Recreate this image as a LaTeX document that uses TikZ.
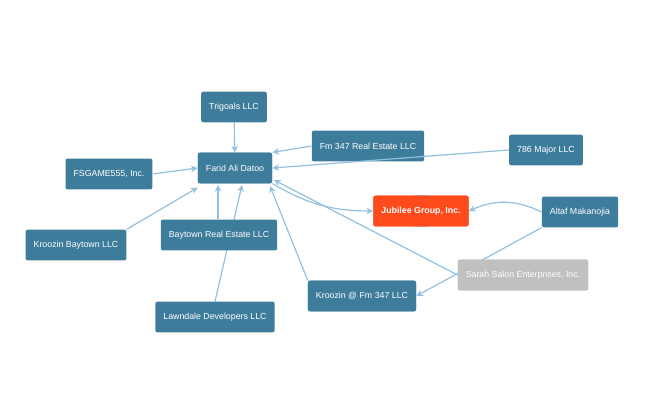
\documentclass[tikz,border=0pt]{standalone}
\usepackage{fontspec}
\setmainfont{Liberation Sans}
\definecolor{boxblue}{HTML}{3E7C9B}
\definecolor{boxred}{HTML}{FF4A1C}
\definecolor{boxgray}{HTML}{C0C0C0}
\definecolor{linkblue}{HTML}{92C0DE}
\tikzset{
  firm/.style={rectangle, rounded corners=1.5pt, fill=boxblue, text=white,
    font=\fontsize{6.6}{8}\selectfont, minimum height=23pt, inner xsep=6pt},
  link/.style={draw=linkblue, line width=0.9pt, -{Stealth[length=5pt,width=5pt]}}
}
\usetikzlibrary{arrows.meta}
\begin{document}
\begin{tikzpicture}[x=0.75pt, y=-0.75pt]
\useasboundingbox (0,0) rectangle (648,420);
% edges first so the boxes sit on top
\coordinate (lw) at (230,302);
\node[firm] (farid) at (235,168) {Farid Ali Datoo};
\node[firm] (trig) at (234,107) {Trigoals LLC};
\node[firm] (fm) at (368,146) {Fm 347 Real Estate LLC};
\node[firm] (major) at (546,150) {786 Major LLC};
\node[firm] (fsg) at (109,174) {FSGAME555, Inc.};
\node[firm, fill=boxred] (jub) at (421,211) {\textbf{Jubilee Group, Inc.}};
\node[firm] (altaf) at (580,212) {Altaf Makanojia};
\node[firm] (kbay) at (76,245) {Kroozin Baytown LLC};
\node[firm, fill=boxgray] (sarah) at (523,275) {Sarah Salon Enterprises, Inc.};
\node[firm] (kfm) at (362,296) {Kroozin @ Fm 347 LLC};
\node[firm] (lawn) at (215,317) {Lawndale Developers LLC};
\begin{scope}[on background layer/.style={}]
\draw[link] (trig) -- (farid);
\draw[link] (fm.west) -- (farid.north east);
\draw[link] (major.west) -- (farid.east);
\draw[link] (fsg.east) -- (farid.west);
\draw[link] (kbay.north east) -- ([yshift=-3pt]farid.south west);
\draw[link] (lawn.north) -- (242,185);
\draw[link] (kfm.north west) -- (270,186);
\draw[link] (sarah.west) -- (274,180);
\draw[link] (farid.south east) to[bend right=15] (jub.west);
\draw[link] (altaf.west) to[bend right=25] (jub.east);
\draw[link] (altaf.south west) -- (kfm.east);
\end{scope}
\node[firm] (bay) at (219,235) {Baytown Real Estate LLC};
\draw[link] (bay.north -| 218,0) -- (218,185);
\node[firm, fill=boxgray] at (sarah) {Sarah Salon Enterprises, Inc.};
\node[firm] at (farid) {Farid Ali Datoo};
\node[firm] at (kfm) {Kroozin @ Fm 347 LLC};
\node[firm] at (jub) {};
\node[firm, fill=boxred] at (jub) {\textbf{Jubilee Group, Inc.}};
\end{tikzpicture}
\end{document}
